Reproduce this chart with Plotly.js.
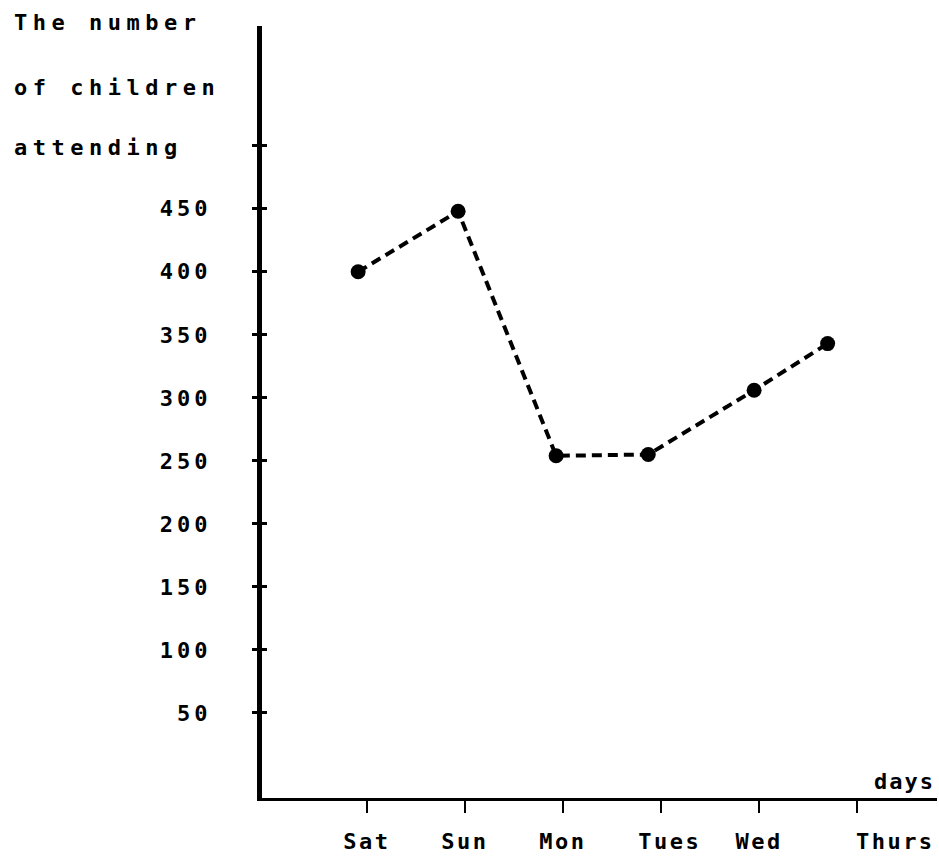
<!DOCTYPE html>
<html>
<head>
<meta charset="utf-8">
<script src="https://cdn.plot.ly/plotly-3.0.1.min.js"></script>
<style>
  html, body { margin: 0; padding: 0; background: #fff; }
  #chart { width: 939px; height: 856px; }
</style>
</head>
<body>
<div id="chart"></div>
<script>
// ---- data ----
const days = ['Sat', 'Sun', 'Mon', 'Tues', 'Wed', 'Thurs'];
const dayTicks = [1, 2, 3, 4, 5, 6];
const dayLabelPos = [1, 2, 3, 4.09, 5, 6.39];
const pointDay = [0.91, 1.93, 2.93, 3.87, 4.95, 5.70];
const children = [400, 448, 254, 255, 306, 343];
const yTickVals = [50, 100, 150, 200, 250, 300, 350, 400, 450, 500];
const yTickText = ['50', '100', '150', '200', '250', '300', '350', '400', '450', ''];
const yTitleLines = ['The number', 'of children', 'attending'];
const xTitle = 'days';

const FONT = 'DejaVu Sans Mono, Liberation Mono, monospace';
const sp = (t, px) => t ? '<span style="letter-spacing:' + px + 'px">' + t + '</span>' : '';

const xRange = [-0.071, 6.816];
const yRange = [-17.5, 595];

const traces = [
  {
    x: pointDay, y: children, type: 'scatter', mode: 'lines+markers',
    line: { color: '#000', width: 4, dash: '10px,6px' },
    marker: { color: '#000', size: 15 },
    showlegend: false, hoverinfo: 'x+y'
  },
  {
    x: [null], y: [null], xaxis: 'x2', yaxis: 'y2', type: 'scatter', mode: 'markers',
    showlegend: false, hoverinfo: 'skip'
  }
];

const tickFont = { family: FONT, size: 22, color: '#000', weight: 'bold' };

const layout = {
  width: 939, height: 856,
  margin: { l: 262, r: 2, t: 26, b: 58 },
  paper_bgcolor: '#fff', plot_bgcolor: '#fff',
  showlegend: false,
  xaxis: {
    range: xRange, showgrid: false, zeroline: false,
    showline: true, linecolor: '#000', linewidth: 3,
    tickmode: 'array', tickvals: dayTicks, ticktext: days.map(() => ''),
    ticks: 'outside', ticklen: 12, tickwidth: 2.5, tickcolor: '#000',
    fixedrange: true
  },
  xaxis2: {
    overlaying: 'x', side: 'bottom', anchor: 'y',
    range: xRange, showgrid: false, zeroline: false, showline: false,
    tickmode: 'array', tickvals: dayLabelPos, ticktext: days.map(d => sp(d, 2.5)),
    ticks: '', ticklabelstandoff: 28, ticklabeloverflow: 'allow',
    tickfont: tickFont, fixedrange: true
  },
  yaxis: {
    range: yRange, showgrid: false, zeroline: false,
    showline: true, linecolor: '#000', linewidth: 5,
    tickmode: 'array', tickvals: yTickVals, ticktext: yTickText.map(t => sp(t, 4)),
    ticks: 'outside', ticklen: 5, tickwidth: 3, tickcolor: '#000',
    ticklabelstandoff: 36,
    tickfont: tickFont, fixedrange: true
  },
  yaxis2: {
    overlaying: 'y', side: 'left', anchor: 'x',
    range: yRange, showgrid: false, zeroline: false, showline: false,
    tickmode: 'array', tickvals: yTickVals, showticklabels: false,
    ticks: 'inside', ticklen: 5, tickwidth: 3, tickcolor: '#000',
    fixedrange: true
  },
  annotations: [
    ...yTitleLines.map((t, i) => ({
      text: sp(t, 5.5), xref: 'paper', yref: 'paper',
      x: -0.3704, y: [1.005, 0.9197, 0.842][i],
      xanchor: 'left', yanchor: 'middle', showarrow: false,
      font: tickFont
    })),
    {
      text: sp(xTitle, 2), xref: 'paper', yref: 'paper',
      x: 1.0, y: 0.003, xanchor: 'right', yanchor: 'bottom', showarrow: false,
      font: tickFont
    }
  ]
};

Plotly.newPlot('chart', traces, layout, { displayModeBar: false, staticPlot: true });
</script>
</body>
</html>
